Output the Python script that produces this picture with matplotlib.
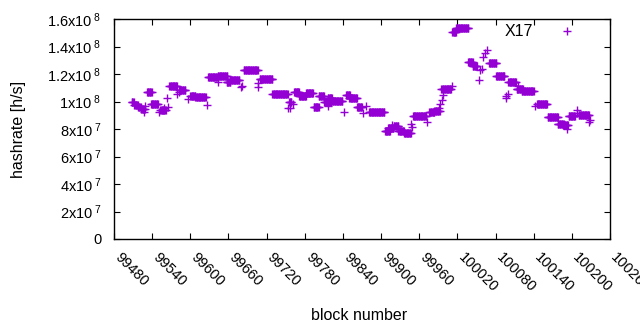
import numpy as np
import matplotlib
matplotlib.use("Agg")
import matplotlib.pyplot as plt
import matplotlib.transforms as mtransforms

plt.rcParams['font.family'] = ['Liberation Sans', 'DejaVu Sans']
plt.rcParams['mathtext.fontset'] = 'custom'
plt.rcParams['mathtext.rm'] = 'Liberation Sans'
plt.rcParams['mathtext.it'] = 'Liberation Sans'

# Runs of constant hashrate: first block, last block (inclusive), hashrate (1e6 h/s)
run_start = [99508, 99512, 99518, 99523, 99532, 99538, 99553, 99567, 99583, 99600, 99608,
             99628, 99643, 99657, 99663, 99684, 99709, 99729, 99755, 99763, 99771, 99782,
             99794, 99802, 99811, 99816, 99822, 99845, 99850, 99862, 99881, 99906, 99911,
             99920, 99927, 99936, 99950, 99976, 99984, 99995, 100012, 100018, 100037,
             100044, 100070, 100081, 100100, 100113, 100121, 100145, 100162, 100178,
             100186, 100195, 100211]
run_end = [99511, 99517, 99522, 99528, 99539, 99549, 99561, 99579, 99592, 99608, 99624,
           99643, 99658, 99663, 99677, 99706, 99729, 99753, 99759, 99771, 99782, 99793,
           99802, 99810, 99821, 99823, 99839, 99851, 99862, 99870, 99905, 99914, 99919,
           99927, 99936, 99947, 99971, 99984, 99992, 100010, 100018, 100037, 100044,
           100051, 100081, 100094, 100112, 100123, 100140, 100161, 100178, 100187,
           100194, 100205, 100227]
run_value = [99.5, 97.5, 96.0, 94.5, 106.7, 98.0, 94.0, 111.5, 108.4, 104.2, 103.5,
             118.0, 118.8, 114.4, 115.4, 122.9, 116.6, 105.2, 99.9, 106.7, 104.0, 106.0,
             95.8, 104.3, 99.9, 102.8, 100.4, 104.7, 102.3, 95.8, 92.6, 78.5, 80.5,
             82.4, 78.5, 76.9, 89.5, 92.6, 93.0, 108.8, 150.3, 153.2, 128.5,
             125.8, 127.8, 118.5, 114.0, 108.8, 107.6, 98.0, 88.5, 83.4,
             82.9, 89.5, 90.2]

# Isolated blocks
pt_block = [99527, 99529, 99551, 99557, 99559, 99563, 99565, 99579, 99583, 99596, 99626,
            99643, 99680, 99682, 99706, 99707, 99753, 99757, 99762, 99816, 99842, 99872,
            99876, 99917, 99947, 99949, 99973, 99991, 99993, 99996, 99998, 100012,
            100054, 100056, 100058, 100060, 100064, 100067, 100096, 100097, 100099,
            100116, 100142, 100192, 100208, 100208, 100227, 100228]
pt_value = [92.6, 96.7, 92.6, 93.8, 95.0, 102.8, 96.2, 105.2, 107.1, 102.0, 97.2,
            114.4, 110.3, 111.5, 110.3, 113.2, 95.0, 95.0, 98.2, 96.4, 92.6, 91.4,
            96.7, 82.9, 83.6, 81.5, 85.3, 95.3, 98.2, 101.0, 104.7, 111.3,
            115.6, 122.9, 123.4, 132.6, 135.0, 137.5, 102.3, 104.0, 105.5,
            111.3, 96.7, 80.0, 93.8, 91.7, 84.8, 86.5]

xticks = list(range(99480, 100261, 60))
yticks = [0, 2e7, 4e7, 6e7, 8e7, 1e8, 1.2e8, 1.4e8, 1.6e8]
ytick_labels = ['0', r'2x10$^{\ 7}$', r'4x10$^{\ 7}$', r'6x10$^{\ 7}$', r'8x10$^{\ 7}$',
                r'1x10$^{\ 8}$', r'1.2x10$^{\ 8}$', r'1.4x10$^{\ 8}$', r'1.6x10$^{\ 8}$']

blocks = []
values = []
for s, e, v in zip(run_start, run_end, run_value):
    for b in range(s, e + 1):
        blocks.append(b)
        values.append(v * 1e6)
blocks += pt_block
values += [v * 1e6 for v in pt_value]

fig = plt.figure(figsize=(6.4, 3.3), dpi=100)
ax = fig.add_axes([114/640, 1 - 239/330, (610-114)/640, (239-19)/330])
color = '#9400d3'
ax.plot(blocks, values, linestyle='none', marker='+', color=color,
        markersize=6, markeredgewidth=1.0, label='X17')

ax.set_xlim(99480, 100260)
ax.set_ylim(0, 1.6e8)
ax.set_xticks(xticks)
ax.set_xticklabels([str(t) for t in xticks], rotation=-45, ha='left', va='center',
                   rotation_mode='anchor')
ax.set_yticks(yticks)
ax.set_yticklabels(ytick_labels)
ax.tick_params(direction='in', length=4, width=0.8, top=True, right=True,
               labelsize=10.5)
ax.tick_params(axis='y', pad=9)
ax.tick_params(axis='x', pad=12)
offset = mtransforms.ScaledTranslation(3/100, 0, fig.dpi_scale_trans)
for lab in ax.get_xticklabels():
    lab.set_transform(lab.get_transform() + offset)
for sp in ax.spines.values():
    sp.set_linewidth(1.0)

fig.text(359/640, 1 - 316/330, 'block number', fontsize=11.5, ha='center', va='center')
fig.text(19/640, 1 - 129/330, 'hashrate [h/s]', fontsize=11.5, ha='center', va='center',
         rotation=90)

ax.legend(loc='upper right', bbox_to_anchor=(0.9456, 0.975), frameon=False,
          markerfirst=False, fontsize=11.5, handlelength=2.0, handletextpad=1.15,
          borderaxespad=0, borderpad=0)

fig.savefig('out.png', dpi=100)
